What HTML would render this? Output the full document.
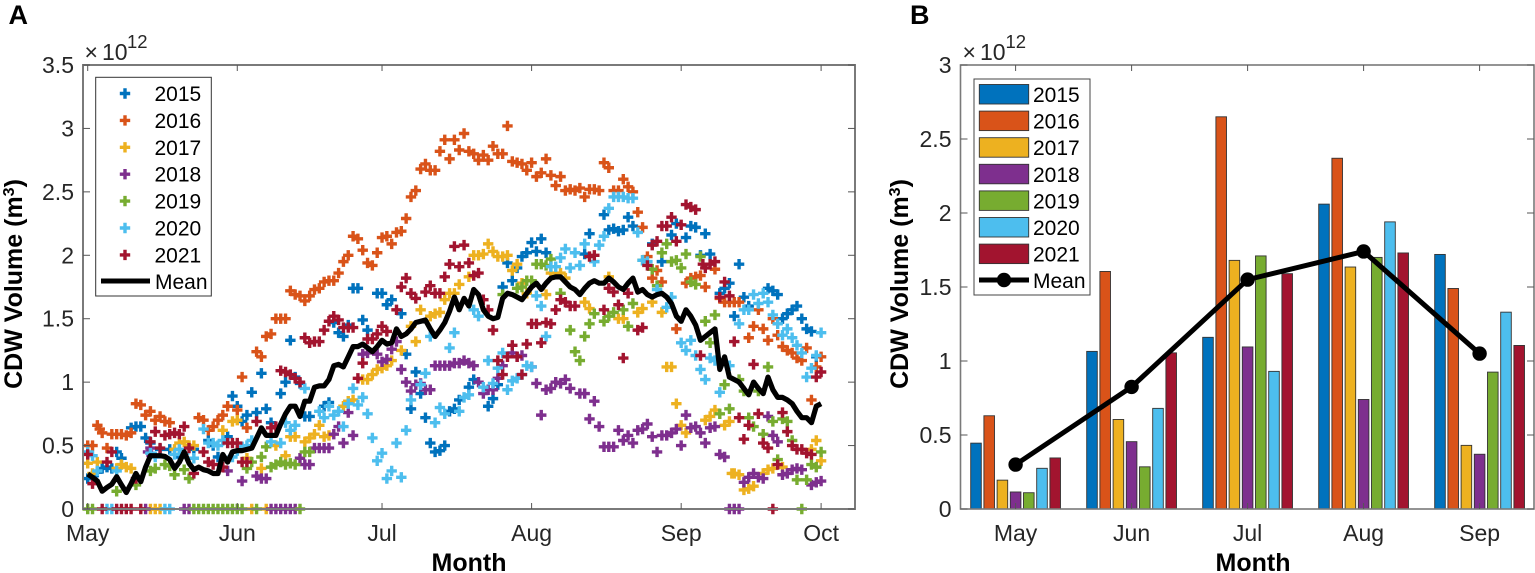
<!DOCTYPE html>
<html lang="en">
<head>
<meta charset="utf-8">
<title>CDW Volume</title>
<style>
html,body{margin:0;padding:0;background:#fff;width:1535px;height:573px;overflow:hidden}
svg{display:block;font-family:"Liberation Sans",sans-serif}
.tick-label{font-size:23px;fill:#262626}
.axis-title{font-size:25px;font-weight:bold;fill:#000}
.panel-label{font-size:27px;font-weight:bold;fill:#000}
.legend-text{font-size:21px;fill:#000}
.exp{font-size:23px;fill:#262626}
</style>
</head>
<body>
<svg id="figure" xmlns="http://www.w3.org/2000/svg" width="1535" height="573" viewBox="0 0 1535 573">
  <rect x="0" y="0" width="1535" height="573" fill="#fff"/>
  <text class="panel-label" x="8.5" y="24">A</text>
  <text class="panel-label" x="910" y="24">B</text>

  <g id="chartA"></g>
  <g id="chartB"></g>

  <text class="exp" x="84.5" y="60">×<tspan x="102">10</tspan><tspan x="127" y="48" font-size="18.5">12</tspan></text>
  <text class="exp" x="962.5" y="60">×<tspan x="980">10</tspan><tspan x="1005.5" y="48" font-size="18.5">12</tspan></text>

  <text class="axis-title" x="469" y="571" text-anchor="middle">Month</text>
  <text class="axis-title" x="1253" y="571" text-anchor="middle">Month</text>
  <text class="axis-title" transform="translate(22,284) rotate(-90)" text-anchor="middle">CDW Volume (m<tspan dy="-8" font-size="16">3</tspan><tspan dy="8">)</tspan></text>
  <text class="axis-title" transform="translate(908,284) rotate(-90)" text-anchor="middle">CDW Volume (m<tspan dy="-8" font-size="16">3</tspan><tspan dy="8">)</tspan></text>

  <g id="legendA"></g>
  <g id="legendB"></g>
</svg>
<script>
// ---------- Panel A data: [day since May 1, volume in 10^12 m3] ----------
const years = ['2015','2016','2017','2018','2019','2020','2021'];
const colors = ['#0072BD','#D95319','#EDB120','#7E2F8E','#77AC30','#4DBEEE','#A2142F'];
const monthTicksA = ['May','Jun','Jul','Aug','Sep','Oct'];
const monthTickDays = [0,31,61,92,123,152];
const yTicksA = [0,0.5,1,1.5,2,2.5,3,3.5];
const yTickLabelsA = ['0','0.5','1','1.5','2','2.5','3','3.5'];

const daily2015 = [[0,.24],[1,.26],[2,.29],[3,.32],[4,.33],[5,.32],[6,.45],[7,.4],[9,.64],[10,.65],[11,.65],[12,.56],[13,.52],[15,.47],[17,.47],[19,.41],[22,.47],[25,.54],[26,.5],[27,.41],[29,.57],[30,.89],[31,.81],[32,.69],[33,.74],[34,.92],[35,.76],[36,1.07],[37,.79],[38,.68],[40,.91],[41,1],[42,1.33],[43,1.04],[44,.99],[45,.73],[46,.73],[49,.81],[50,.84],[51,1.47],[52,1.39],[53,1.36],[54,1.45],[55,1.74],[56,1.74],[57,1.49],[58,1.41],[60,1.7],[61,1.7],[62,1.61],[63,1.65],[65,1.54],[66,1.22],[67,.79],[68,1.08],[69,.91],[70,.72],[71,.52],[72,.45],[73,.46],[74,.5],[75,.77],[76,.79],[77,.86],[79,.96],[80,1.02],[83,.81],[84,.87],[85,.98],[86,1.75],[87,1.94],[88,1.8],[89,1.9],[90,1.99],[91,2.02],[92,2.1],[93,2.03],[94,2.13],[95,2.02],[103,2.01],[104,2.17],[107,2.32],[108,2.2],[109,2.21],[110,2.19],[111,2.2],[112,2.3],[113,2.23],[117,2.09],[119,1.95],[121,2.16],[122,2.25],[124,2.14],[125,2.23],[126,2.22],[127,2],[128,2.17],[129,2.01],[131,1.7],[132,1.74],[133,1.78],[134,1.52],[135,1.93],[136,1.67],[137,1.6],[141,1.74],[142,1.72],[143,1.69],[144,1.5],[145,1.54],[146,1.57],[147,1.6],[148,1.5],[149,1.42],[150,1.4],[151,1.2]];

const daily2016 = [[0,.5],[1,.5],[2,.66],[2.5,.63],[3,.6],[4,.48],[5,.59],[6,.59],[7,.59],[8,.58],[9,.6],[10,.83],[11,.82],[12,.74],[13,.77],[14,.7],[15,.73],[16,.69],[17,.68],[23,.72],[24,.7],[25,.62],[26,.65],[27,.7],[28,.74],[29,.81],[31,.78],[32,1.04],[33,.64],[35,1.24],[36,1.2],[37,1.36],[38,1.38],[39,1.5],[40,1.5],[41,1.5],[42,1.72],[43,1.69],[44,1.68],[45,1.64],[46,1.68],[47,1.73],[48,1.74],[49,1.79],[50,1.8],[51,1.8],[52,1.86],[53,1.95],[54,2],[55,2.15],[56,2.13],[57,2.04],[58,1.94],[59,1.92],[60,2.02],[61,2.14],[62,2.15],[63,2.09],[64,2.18],[65,2.19],[66,2.29],[67,2.46],[68,2.51],[69,2.68],[70,2.72],[71,2.67],[72,2.67],[73,2.82],[74,2.91],[75,2.76],[76,2.91],[77,2.83],[78,2.96],[79,2.82],[80,2.8],[81,2.75],[82,2.79],[83,2.75],[84,2.86],[85,2.8],[86,2.8],[87,3.02],[88,2.74],[89,2.73],[90,2.72],[91,2.67],[92,2.73],[93,2.62],[94,2.65],[95,2.76],[96,2.63],[97,2.55],[98,2.62],[99,2.51],[100,2.52],[101,2.51],[102,2.53],[103,2.46],[104,2.52],[105,2.52],[106,2.51],[107,2.73],[108,2.69],[109,2.51],[110,2.51],[111,2.6],[112,2.54],[113,2.5],[114,2.34],[115,2.22],[116,1.99],[117,1.82],[118,1.88],[119,1.79],[122,1.42],[124,1.78],[125,1.82],[126,1.83],[127,1.84],[128,1.75],[130,1.89],[131,1.66],[132,1.63],[133,1.63],[134,1.63],[135,1.63],[137,1.35],[138,1.44],[139,1.57],[140,1.42],[141,1.33],[142,1.5],[143,1.37],[144,1.28],[145,1.25],[146,1.23],[147,1.19],[148,1.17],[149,1.27],[150,.86],[151,1.12],[152,1.2]];

const daily2017 = [[0,.36],[1,.28],[2,.37],[6,.32],[7,.35],[8,.33],[9,.32],[13,0],[14,0],[15,0],[18,.47],[19,.52],[20,.53],[21,.5],[22,.5],[28,.62],[30,.69],[31,.7],[33,.4],[34,0],[36,.32],[37,0],[39,.5],[41,.42],[42,.57],[43,.57],[45,.53],[46,.56],[47,.59],[48,.66],[49,.57],[50,.58],[53,.81],[54,.85],[55,.86],[57,1.02],[58,1.02],[59,1.06],[60,1.1],[61,1.11],[62,1.13],[63,1.17],[65,1.25],[67,1.44],[68,1.32],[69,1.57],[71,1.52],[72,1.54],[73,1.55],[74,1.65],[75,1.7],[76,1.7],[77,1.77],[79,1.83],[80,2],[81,2],[82,2.01],[83,2.09],[84,2.03],[85,1.99],[86,1.99],[87,2],[88,1.88],[89,1.93],[90,1.78],[91,1.7],[95,1.69],[96,1.86],[98,1.86],[99,1.82],[103,1.63],[104,1.58],[108,1.83],[110,1.5],[111,1.5],[114,1.55],[115,1.58],[117,1.63],[119,1.55],[120,1.12],[121,1.12],[122,.83],[123,.66],[124,.6],[128,.7],[129,.73],[130,.78],[132,.66],[133,.69],[133.5,.28],[134,.28],[135,.27],[136,.15],[137,.16],[138,.18],[140,.28],[141,.31],[142,.32],[144,.33],[150,.47],[151,.54],[152,.38]];

const daily2018 = [[12,0],[12.5,.45],[13,.48],[20,0],[21,0],[29,.3],[32,.22],[35,.26],[36,.24],[37,.24],[38,0],[39,0],[40,0],[41,0],[42,0],[43,0],[44,.4],[45,.35],[46,.35],[47,.48],[48,.48],[49,.48],[50,.48],[51,.59],[52,.65],[53,.52],[54,.76],[55,.58],[57,1.22],[58,1.23],[60,1.22],[61,1.16],[62,1.18],[63,1.26],[64,1.32],[65,1.1],[66,1],[67,.93],[68,.98],[69,.99],[70,.94],[71,.94],[72,1.13],[73,1.13],[74,1.13],[75,1.13],[76,1.15],[77,1.15],[78,1.17],[79,1.15],[80,1.13],[81,1],[82,.91],[83,.94],[84,.94],[85,1.03],[86,1.13],[88,1.23],[89,1.2],[90,1.21],[92,1.12],[93,.99],[94,.74],[95,.94],[96,.95],[97,1],[98,.99],[99,1.02],[100,.95],[102,.91],[103,.91],[104,.71],[105,.85],[106,.65],[107,.49],[108,.49],[109,.49],[110,.62],[111,.54],[112,.58],[113,.52],[114,.62],[115,.63],[116,.67],[117,.57],[118,.45],[119,.58],[120,.58],[121,.6],[122,.63],[123,.5],[124,.74],[125,.64],[126,.65],[127,.6],[128,.52],[129,.64],[130,.65],[131,.43],[132,.41],[133,0],[134,0],[135,0],[136,.21],[137,.25],[138,.28],[139,.25],[140,.24],[141,.73],[142,.58],[143,.53],[144,.27],[145,.28],[146,.31],[147,.32],[148,.31],[150,.19],[151,.21],[152,.22]];

const daily2019 = [[0,0],[1,0],[6,.14],[10,.19],[13,.3],[14,.32],[16,.35],[17,.34],[18,.27],[20,.31],[21,.24],[22,0],[23,0],[24,0],[25,0],[26,0],[27,0],[28,0],[29,0],[30,0],[31,0],[32,0],[33,.32],[34,.37],[35,0],[36,.41],[37,.49],[38,.33],[39,.35],[40,.37],[41,.35],[42,.36],[43,.35],[44,0],[45,.45],[46,.45],[86,1.69],[89,1.74],[90,1.75],[91,1.8],[92,1.8],[93,1.93],[94,1.93],[95,1.92],[96,1.97],[98,1.7],[100,1.41],[101,1.24],[102,1.17],[103,1.36],[104,1.46],[105,1.54],[107,1.48],[108,1.52],[109,1.55],[111,1.57],[112,1.44],[113,1.62],[115,1.96],[117,1.89],[118,1.76],[119,2.02],[120,2.09],[121,1.95],[122,1.96],[123,1.9],[124,2.01],[125,1.79],[126,1.77],[127,1.99],[128,1.48],[129,1.31],[130,1.53],[131,.75],[132,.98],[133,.79],[135,1.02],[136,.93],[137,.72],[138,.65],[139,.93],[140,.59],[141,1.12],[142,.69],[143,.39],[144,.71],[145,.69],[146,.54],[147,.23],[148,0],[149,.23],[150,.35],[151,.33],[152,.45]];

const daily2020 = [[0,.45],[1,.42],[2,.3],[4,0],[5,0],[6,.3],[13,.44],[14,.41],[16,0],[17,0],[18,.43],[19,.47],[20,.44],[22,.4],[24,.63],[25,.52],[26,.52],[27,.5],[28,.54],[30,.41],[31,.46],[32,.49],[33,.5],[34,.54],[38,.53],[40,.52],[41,.68],[42,.62],[43,.66],[45,.95],[48,.77],[49,.72],[50,.81],[51,.74],[52,.77],[53,.65],[54,.83],[55,.95],[56,.82],[57,.88],[58,.75],[59,.56],[60,.38],[61,.44],[62,.24],[63,.3],[64,.52],[65,.25],[66,.62],[67,.86],[69,.98],[70,1.07],[71,1.36],[72,.68],[73,.8],[74,.75],[75,1.27],[76,1.39],[77,.77],[78,.88],[79,.9],[80,1.57],[81,1.52],[82,.96],[83,1.17],[84,.99],[85,1.11],[86,1.23],[87,.94],[88,1.01],[89,1.03],[90,1.06],[91,1.13],[92,1.12],[93,1.68],[94,1.6],[95,1.36],[96,1.91],[97,1.91],[98,1.98],[99,2.05],[100,1.9],[101,2.02],[102,1.92],[103,2.09],[105,1.95],[106,2.08],[107,2.15],[108,2.37],[109,2.46],[110,2.46],[111,2.46],[112,2.45],[113,2.45],[114,2.18],[115,1.96],[116,1.95],[118,1.73],[120,1.59],[121,1.67],[123,1.31],[124,1.25],[125,1.33],[126,1.21],[127,1.1],[128,1.02],[129,1.19],[130,1.17],[131,.92],[133,1.13],[135,1.46],[136,1.57],[137,1.57],[138,1.69],[139,1.62],[140,1.7],[141,1.63],[142,1.53],[143,1.46],[144,1.37],[145,1.42],[146,1.35],[147,1.29],[148,1.23],[149,1.04],[150,1.11],[151,1.21],[152,1.39]];

const daily2021 = [[0,.43],[1,.2],[3,0],[4,.37],[5,.45],[6,0],[7,0],[8,0],[9,0],[10,.24],[11,0],[13,.53],[14,.61],[15,.48],[16,.58],[17,.59],[18,.6],[19,.59],[20,.65],[21,.48],[22,.28],[24,.45],[25,.37],[26,.35],[28,.33],[29,.52],[30,.52],[31,.52],[32,.37],[33,.37],[35,.69],[38,.64],[39,.65],[40,1.09],[41,1.08],[42,1.06],[43,1.03],[44,1],[45,1.35],[46,1.31],[47,1.32],[48,1.32],[49,1.41],[50,1.48],[51,1.52],[52,1.49],[53,1.43],[54,1.43],[55,1.43],[56,1.03],[57,1.15],[58,1.34],[59,1.34],[60,1.38],[61,1.44],[62,1.4],[64,1.57],[65,1.75],[66,1.82],[67,1.7],[68,1.66],[70,1.71],[71,1.76],[72,1.7],[73,1.7],[74,1.83],[75,1.93],[76,2.07],[77,1.91],[78,2.08],[79,1.94],[80,1.84],[81,1.86],[82,1.65],[83,1.57],[84,1.41],[85,1.17],[86,1.06],[87,1.2],[88,1.29],[89,1.2],[90,1.06],[91,1.3],[92,1.46],[93,1.46],[94,1.31],[95,1.47],[96,1.46],[97,1.57],[98,1.65],[99,1.63],[100,1.6],[101,1.6],[104,1.99],[105,2],[107,1.57],[108,1.74],[109,1.71],[110,1.61],[111,1.19],[112,1.7],[114,1.41],[115,1.43],[116,1.92],[117,2.08],[118,2.11],[119,2.23],[120,2.23],[121,2.3],[122,2.11],[123,2.24],[124,2.4],[125,2.38],[126,2.36],[127,1.21],[127.5,1.93],[128,1.9],[129,1.93],[130,1.95],[131,1.67],[132,1.79],[133,1.68],[134,1.32],[135,.72],[136,.55],[137,.66],[138,1.14],[139,.75],[140,.52],[141,.48],[142,0],[143,.35],[144,.76],[145,.61],[146,.5],[147,.47],[148,.47],[149,.44],[150,.43],[151,1.04],[152,1.08]];

const dailySeries = [daily2015,daily2016,daily2017,daily2018,daily2019,daily2020,daily2021];

const dailyMean = [.275,.25,.22,.14,.17,.195,.255,.19,.13,.2,.28,.215,.33,.42,.42,.42,.415,.39,.32,.37,.45,.36,.31,.33,.31,.3,.28,.28,.43,.37,.45,.46,.46,.47,.48,.56,.64,.58,.58,.58,.67,.75,.81,.81,.73,.85,.85,.96,.97,.97,1.02,1.13,1.14,1.12,1.2,1.28,1.28,1.3,1.27,1.24,1.28,1.33,1.3,1.31,1.42,1.36,1.38,1.42,1.47,1.48,1.49,1.42,1.36,1.41,1.47,1.56,1.67,1.57,1.66,1.6,1.73,1.69,1.57,1.52,1.5,1.51,1.66,1.7,1.69,1.67,1.65,1.7,1.75,1.78,1.73,1.78,1.82,1.83,1.83,1.79,1.75,1.73,1.69,1.74,1.78,1.8,1.78,1.78,1.82,1.79,1.75,1.73,1.78,1.82,1.71,1.73,1.69,1.67,1.69,1.7,1.67,1.62,1.52,1.48,1.57,1.52,1.45,1.33,1.36,1.39,1.42,1.1,1.2,1.04,1.02,1,.95,.9,1,.95,.91,1.04,.94,.88,.88,.86,.83,.77,.72,.72,.68,.81,.83];

// ---------- Panel B data: monthly volume in 10^12 m3 ----------
const monthsB = ['May','Jun','Jul','Aug','Sep'];
const yTicksB = [0,0.5,1,1.5,2,2.5,3];
const yTickLabelsB = ['0','0.5','1','1.5','2','2.5','3'];
const monthly2015 = [.445,1.065,1.16,2.06,1.72];
const monthly2016 = [.63,1.605,2.65,2.37,1.49];
const monthly2017 = [.195,.605,1.68,1.635,.43];
const monthly2018 = [.115,.455,1.095,.74,.37];
const monthly2019 = [.11,.285,1.71,1.70,.925];
const monthly2020 = [.275,.68,.93,1.94,1.33];
const monthly2021 = [.345,1.055,1.59,1.73,1.105];
const monthlySeries = [monthly2015,monthly2016,monthly2017,monthly2018,monthly2019,monthly2020,monthly2021];
const monthlyMean = [.30,.825,1.55,1.74,1.05];

// ---------- helpers ----------
const NS = 'http://www.w3.org/2000/svg';
function mk(parent, tag, attrs, text) {
  const e = document.createElementNS(NS, tag);
  for (const k in attrs) e.setAttribute(k, attrs[k]);
  if (text !== undefined) e.textContent = text;
  parent.appendChild(e);
  return e;
}
const AX = '#7a7a7a';

// ---------- axis functions ----------
const boxA = {l:83, r:855, t:65, b:509};
const boxB = {l:960.5, r:1534, t:65, b:509};
function xA(day) { return 87.7 + day * 4.825; }
function yA(v) { return 509 - v * (444 / 3.5); }
function xB(i) { return 1015.6 + i * 116; }
function yB(v) { return 509 - v * (444 / 3); }
const barStep = 13.2, barWidth = 10.6;

function frame(g, box, xPositions, xLabels, yValues, yLabels, yFn, nameRoot, lineW) {
  const border = mk(g, 'rect', {x:box.l, y:box.t, width:box.r-box.l, height:box.b-box.t, fill:'none', stroke:AX, 'stroke-width':lineW});
  
  
  xPositions.forEach((x, i) => {
    mk(g, 'line', {x1:x, x2:x, y1:box.b, y2:box.b-6, stroke:'#555', 'stroke-width':1});
    mk(g, 'line', {x1:x, x2:x, y1:box.t, y2:box.t+6, stroke:'#555', 'stroke-width':1});
    const t = mk(g, 'text', {x:x, y:541, 'text-anchor':'middle', class:'tick-label'}, xLabels[i]);
    
    
  });
  yValues.forEach((v, i) => {
    const y = yFn(v);
    mk(g, 'line', {x1:box.l, x2:box.l+7, y1:y, y2:y, stroke:'#555', 'stroke-width':1});
    mk(g, 'line', {x1:box.r, x2:box.r-7, y1:y, y2:y, stroke:'#555', 'stroke-width':1});
    const t = mk(g, 'text', {x:box.l-9, y:y+8, 'text-anchor':'end', class:'tick-label'}, yLabels[i]);
    
    
  });
}

function plus(g, x, y, color) {
  const s = 5.2;
  return mk(g, 'path', {d:'M'+(x-s)+' '+y+'H'+(x+s)+'M'+x+' '+(y-s)+'V'+(y+s), stroke:color, 'stroke-width':3.4, fill:'none'});
}

// ---------- Panel A ----------
const gA = document.getElementById('chartA');
dailySeries.forEach((pts, s) => {
  const grp = mk(gA, 'g', {});
  
  
  pts.forEach(p => {
    const m = plus(grp, xA(p[0]), yA(p[1]), colors[s]);
    
    
  });
});
const meanA = mk(gA, 'polyline', {points:dailyMean.map((v,i)=>xA(i).toFixed(1)+','+yA(v).toFixed(1)).join(' '), fill:'none', stroke:'#000', 'stroke-width':5.2, 'stroke-linejoin':'round'});


frame(gA, boxA, monthTickDays.map(xA), monthTicksA, yTicksA, yTickLabelsA, yA, 'chart-a', 2);

// ---------- Panel B ----------
const gB = document.getElementById('chartB');
monthlySeries.forEach((vals, s) => {
  const grp = mk(gB, 'g', {});
  
  
  vals.forEach((v, i) => {
    const cx = xB(i) + (s - 3) * barStep;
    const r = mk(grp, 'rect', {x:cx-barWidth/2, y:yB(v), width:barWidth, height:509-yB(v), fill:colors[s], stroke:'#333', 'stroke-width':0.9});
    
    
  });
});
frame(gB, boxB, monthsB.map((m,i)=>xB(i)), monthsB, yTicksB, yTickLabelsB, yB, 'chart-b', 1.6);
const meanB = mk(gB, 'polyline', {points:monthlyMean.map((v,i)=>xB(i)+','+yB(v)).join(' '), fill:'none', stroke:'#000', 'stroke-width':5});


monthlyMean.forEach((v,i) => {
  const c = mk(gB, 'circle', {cx:xB(i), cy:yB(v), r:7.2, fill:'#000'});
  
  
});

// ---------- Legend A ----------
const lA = document.getElementById('legendA');
mk(lA, 'rect', {x:95.7, y:77.3, width:115.6, height:218.7, fill:'#fff', stroke:'#333', 'stroke-width':1});
years.forEach((yr, i) => {
  const cy = 93.5 + i * 26.9;
  const m = plus(lA, 125, cy, colors[i]);
  
  
  const t = mk(lA, 'text', {x:154.5, y:cy+7.5, class:'legend-text'}, yr);
  
  
});
mk(lA, 'line', {x1:101, x2:150, y1:281, y2:281, stroke:'#000', 'stroke-width':5});
const lmA = mk(lA, 'text', {x:155, y:289, class:'legend-text'}, 'Mean');



// ---------- Legend B ----------
const lB = document.getElementById('legendB');
mk(lB, 'rect', {x:974, y:79, width:116, height:216, fill:'#fff', stroke:'#444', 'stroke-width':1});
years.forEach((yr, i) => {
  const top = 84.5 + i * 26.6;
  const r = mk(lB, 'rect', {x:979.3, y:top, width:49.4, height:19.5, fill:colors[i], stroke:'#333', 'stroke-width':0.9});
  
  
  const t = mk(lB, 'text', {x:1033, y:top+17.5, class:'legend-text'}, yr);
  
  
});
mk(lB, 'line', {x1:979, x2:1029, y1:280, y2:280, stroke:'#000', 'stroke-width':5});
mk(lB, 'circle', {cx:1004, cy:280, r:7.2, fill:'#000'});
const lmB = mk(lB, 'text', {x:1033, y:288, class:'legend-text'}, 'Mean');


</script>
</body>
</html>
